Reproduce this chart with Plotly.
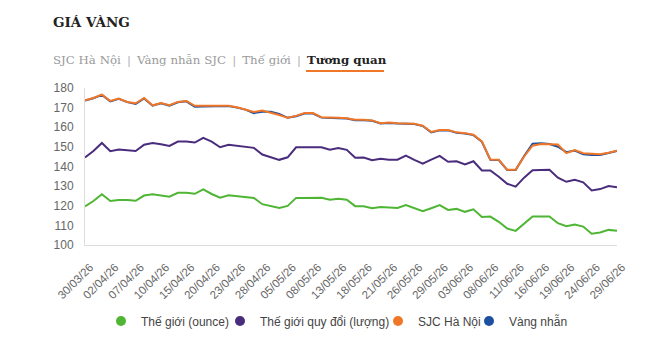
import plotly.graph_objects as go

# ---------------- data ----------------
dates = [
    "30/03/26", "31/03/26", "01/04/26", "02/04/26", "03/04/26", "06/04/26", "07/04/26", "08/04/26",
    "09/04/26", "10/04/26", "13/04/26", "14/04/26", "15/04/26", "16/04/26", "17/04/26", "20/04/26",
    "21/04/26", "22/04/26", "23/04/26", "24/04/26", "27/04/26", "28/04/26", "29/04/26", "04/05/26",
    "05/05/26", "06/05/26", "07/05/26", "08/05/26", "11/05/26", "12/05/26", "13/05/26", "14/05/26",
    "15/05/26", "18/05/26", "19/05/26", "20/05/26", "21/05/26", "22/05/26", "25/05/26", "26/05/26",
    "27/05/26", "28/05/26", "29/05/26", "01/06/26", "02/06/26", "03/06/26", "04/06/26", "05/06/26",
    "08/06/26", "09/06/26", "10/06/26", "11/06/26", "12/06/26", "15/06/26", "16/06/26", "17/06/26",
    "18/06/26", "19/06/26", "22/06/26", "23/06/26", "24/06/26", "25/06/26", "26/06/26", "29/06/26",
]

the_gioi_ounce = [
    119.7, 122.4, 125.9, 122.4, 122.9, 122.9, 122.5, 125.2, 125.9, 125.3, 124.6, 126.6, 126.6, 126.1, 128.3, 126.0,
    124.1, 125.3, 124.8, 124.5, 124.0, 120.8, 119.7, 118.9, 119.9, 124.0, 124.0, 124.0, 124.1, 123.1, 123.6, 123.1,
    119.8, 119.7, 118.7, 119.4, 119.1, 118.9, 120.4, 118.7, 117.2, 118.7, 120.3, 117.9, 118.4, 116.9, 118.2, 114.3,
    114.5, 111.8, 108.4, 107.2, 110.9, 114.5, 114.5, 114.5, 111.1, 109.6, 110.4, 109.4, 105.7, 106.4, 107.7, 107.2,
]

the_gioi_quy_doi = [
    144.6, 147.9, 152.0, 147.8, 148.6, 148.3, 147.9, 151.1, 152.0, 151.3, 150.5, 152.7, 152.7, 152.2, 154.6, 152.7,
    149.8, 151.1, 150.5, 150.0, 149.5, 146.1, 144.6, 143.4, 144.7, 149.8, 149.8, 149.8, 149.8, 148.5, 149.4, 148.5,
    144.5, 144.6, 143.2, 143.9, 143.5, 143.5, 145.6, 143.4, 141.5, 143.5, 145.4, 142.4, 142.7, 141.0, 142.7, 138.0,
    138.0, 134.8, 131.2, 129.7, 134.3, 138.1, 138.3, 138.3, 134.3, 132.2, 133.2, 131.9, 127.8, 128.5, 130.0, 129.4,
]

sjc_ha_noi = [
    173.8, 174.9, 176.6, 173.4, 174.6, 172.9, 172.2, 174.9, 171.2, 172.4, 171.2, 172.9, 173.4, 170.9, 170.9, 170.9,
    170.9, 170.9, 170.2, 169.2, 167.8, 168.5, 167.5, 166.2, 164.8, 165.8, 167.2, 167.2, 165.1, 165.1, 164.8, 164.6,
    163.8, 163.8, 163.5, 162.1, 162.4, 162.1, 162.1, 161.8, 160.8, 157.6, 158.6, 158.6, 157.4, 157.0, 156.2, 152.8,
    143.6, 143.5, 138.4, 138.4, 145.1, 150.6, 151.5, 151.3, 151.2, 146.8, 148.4, 146.8, 146.5, 146.2, 147.0, 148.0,
]

vang_nhan = [
    173.6, 174.8, 176.5, 173.2, 174.5, 172.8, 171.9, 174.7, 171.0, 172.2, 171.0, 172.7, 173.2, 170.5, 170.6, 170.6,
    170.6, 170.8, 170.0, 169.0, 167.2, 167.9, 167.9, 166.8, 164.8, 165.6, 167.0, 167.0, 164.9, 164.9, 164.6, 164.4,
    163.6, 163.6, 163.3, 161.9, 162.2, 161.9, 161.9, 161.6, 160.6, 157.4, 158.4, 158.4, 157.2, 156.8, 156.0, 152.6,
    143.4, 143.3, 138.2, 138.2, 145.3, 151.6, 151.8, 151.5, 150.1, 147.3, 148.1, 146.2, 145.9, 145.9, 146.9, 147.9,
]

series_names = ["Thế giới (ounce)", "Thế giới quy đổi (lượng)", "SJC Hà Nội", "Vàng nhẫn"]
series_colors = ["#4fb534", "#4a2c7c", "#f07628", "#1d50a0"]
series_values = [the_gioi_ounce, the_gioi_quy_doi, sjc_ha_noi, vang_nhan]

tick_labels = dates[::3]
y_ticks = [100, 110, 120, 130, 140, 150, 160, 170, 180]

# ---------------- layout helpers ----------------
L, R, T, B = 85, 617, 88, 246
W, H = R - L, B - T


def px(x):
    return (x - L) / W


def py(y):
    return (B - y) / H


fig = go.Figure()

# lines: draw order green, purple, blue, orange (orange on top)
for idx in [0, 1, 3, 2]:
    fig.add_trace(go.Scatter(
        x=dates, y=series_values[idx], mode="lines",
        line=dict(color=series_colors[idx], width=2),
        name=series_names[idx], showlegend=False, hoverinfo="skip",
    ))

# legend entries (circles), each in its own legend box so spacing follows the reference
legend_ids = ["legend", "legend2", "legend3", "legend4"]
legend_left = [101, 220, 378, 469]
for name, color, lid in zip(series_names, series_colors, legend_ids):
    fig.add_trace(go.Scatter(
        x=[None], y=[None], mode="markers",
        marker=dict(size=10, color=color),
        name=name, showlegend=True, legend=lid,
    ))

legend_common = dict(
    orientation="h", xanchor="left", y=py(321), yanchor="middle",
    font=dict(family="Liberation Sans, Arial, sans-serif", size=12, color="#444444"),
    bgcolor="rgba(0,0,0,0)", borderwidth=0,
)

fig.update_layout(
    width=661, height=346,
    margin=dict(l=L, r=661 - R, t=T, b=346 - B),
    paper_bgcolor="white", plot_bgcolor="white",
    font=dict(family="Liberation Sans, Arial, sans-serif", size=12, color="#666666"),
    showlegend=True,
    xaxis=dict(
        type="category", range=[0, len(dates) - 1],
        tickmode="array", tickvals=tick_labels, ticktext=tick_labels,
        tickangle=-45, tickfont=dict(size=11.5, color="#666666"),
        showgrid=False, zeroline=False, showline=True, linecolor="#dddddd", linewidth=1,
        ticks="", ticklabelstandoff=10, ticklabelshift=5,
    ),
    yaxis=dict(
        range=[100, 180], tickmode="array", tickvals=y_ticks,
        tickfont=dict(size=12, color="#666666"),
        showgrid=False, zeroline=False, showline=True, linecolor="#dddddd", linewidth=1,
        ticks="", ticklabelstandoff=8,
    ),
)
for lid, lx in zip(legend_ids, legend_left):
    fig.update_layout({lid: dict(legend_common, x=px(lx))})

# title and tabs
fig.add_annotation(
    xref="paper", yref="paper", x=px(51), y=py(22), xanchor="left", yanchor="middle",
    text="<b>GIÁ VÀNG</b>", showarrow=False,
    font=dict(family="DejaVu Serif, serif", size=13.5, color="#222222"),
)
sep = "<span style='color:#b0b0b0'> \u2009|\u2009 </span>"
fig.add_annotation(
    xref="paper", yref="paper", x=px(51), y=py(60), xanchor="left", yanchor="middle",
    text=("<span style='color:#9a9a9a'>SJC Hà Nội</span>" + sep +
          "<span style='color:#9a9a9a'>Vàng nhẫn SJC</span>" + sep +
          "<span style='color:#9a9a9a'>Thế giới</span>" + sep +
          "<b><span style='color:#222222'>Tương quan</span></b>"),
    showarrow=False,
    font=dict(family="DejaVu Serif, serif", size=11.8, color="#9a9a9a"),
)
fig.add_shape(
    type="line", xref="paper", yref="paper",
    x0=px(306), x1=px(384), y0=py(71), y1=py(71),
    line=dict(color="#f07628", width=2),
)

fig.write_html("out.html")
